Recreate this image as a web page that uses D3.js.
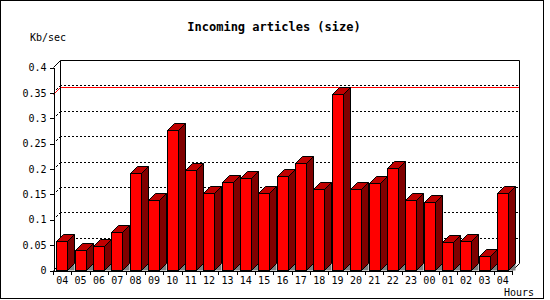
<!DOCTYPE html>
<html>
<head>
<meta charset="utf-8">
<script src="https://cdn.jsdelivr.net/npm/d3@7"></script>
<style>
  body { margin: 0; background: #fff; }
  svg text { font-family: "DejaVu Sans Mono", monospace; font-size: 10px; fill: #000; }
  .title { font-weight: bold; font-size: 12px; }
</style>
</head>
<body>
<div id="chart"></div>
<script>
const hours = ['04', '05', '06', '07', '08', '09', '10', '11', '12', '13', '14', '15', '16',
  '17', '18', '19', '20', '21', '22', '23', '00', '01', '02', '03', '04']
const sizes = [0.057, 0.040, 0.047, 0.075, 0.191, 0.138, 0.276, 0.197, 0.152, 0.173, 0.181, 0.152, 0.185,
  0.211, 0.160, 0.346, 0.160, 0.171, 0.201, 0.138, 0.134, 0.055, 0.058, 0.028, 0.152]
const yTicks = [0, 0.05, 0.1, 0.15, 0.2, 0.25, 0.3, 0.35, 0.4]
const yTickLabels = ['0', '0.05', '0.1', '0.15', '0.2', '0.25', '0.3', '0.35', '0.4']

const dms = {
  width: 550,
  height: 300,
  left: 53,
  right: 512,
  top: 67,
  bottom: 270,
  depth: 7
}
const d = dms.depth
const px = v => Math.round(v) + 0.5

const svg = d3.select('#chart').append('svg')
  .attr('width', dms.width)
  .attr('height', dms.height)

// outer frame
svg.append('rect')
  .attr('x', 0.5).attr('y', 0.5)
  .attr('width', 543).attr('height', 298)
  .attr('fill', 'none').attr('stroke', '#000')
  .attr('shape-rendering', 'crispEdges')

const x = d3.scaleBand()
  .domain(d3.range(hours.length))
  .range([dms.left, dms.right])

const y = d3.scaleLinear()
  .domain([0, 0.4])
  .range([dms.bottom, dms.top])

// dotted grid on the back and left walls
const grid = svg.append('g')
  .attr('stroke', '#000')
  .attr('stroke-dasharray', '2,2')
  .attr('shape-rendering', 'crispEdges')

yTicks.slice(1, -1).forEach(t => {
  grid.append('line')
    .attr('x1', dms.left + d).attr('x2', dms.right + d)
    .attr('y1', px(y(t) - d)).attr('y2', px(y(t) - d))
  grid.append('line')
    .attr('x1', dms.left + 0.5).attr('x2', dms.left + d + 0.5)
    .attr('y1', px(y(t))).attr('y2', px(y(t) - d))
    .attr('shape-rendering', null)
})

// max line
const maxV = d3.max(sizes)
svg.append('path')
  .attr('d', `M${dms.left + 0.5},${px(y(maxV))}L${dms.left + d + 0.5},${px(y(maxV) - d)}H${dms.right + d}`)
  .attr('fill', 'none')
  .attr('stroke', '#f00')

// walls
svg.append('path')
  .attr('d', `M${dms.left + 0.5},${px(dms.top)}L${dms.left + d + 0.5},${px(dms.top - d)}H${dms.right + d + 0.5}V${px(dms.bottom - d)}L${dms.right + 0.5},${px(dms.bottom)}`
    + `M${dms.left + d + 0.5},${px(dms.top - d)}V${px(dms.bottom - d)}`
    + `M${dms.left + 0.5},${px(dms.bottom)}L${dms.left + d + 0.5},${px(dms.bottom - d)}`)
  .attr('fill', 'none')
  .attr('stroke', '#000')

// bars
const bars = svg.append('g')
  .attr('stroke', '#000')
  .attr('stroke-linejoin', 'miter')

sizes.forEach((v, i) => {
  const x0 = px(x(i) + 3.4)
  const x1 = x0 + 11
  const yT = px(y(v))
  const yB = px(y(0))
  const g = bars.append('g')
  g.append('path')
    .attr('d', `M${x1},${yB}L${x1 + d},${yB - d}V${yB}Z`)
    .attr('fill', '#808080')
    .attr('stroke', 'none')
  g.append('path')
    .attr('d', `M${x1},${yT}L${x1 + d},${yT - d}V${yB - d}L${x1},${yB}Z`)
    .attr('fill', '#800000')
  g.append('path')
    .attr('d', `M${x0},${yT}L${x0 + d},${yT - d}H${x1 + d}L${x1},${yT}Z`)
    .attr('fill', '#c00000')
  g.append('rect')
    .attr('x', x0).attr('y', yT)
    .attr('width', x1 - x0).attr('height', yB - yT)
    .attr('fill', '#f00')
})

// y axis
const yAxis = svg.append('g')
  .attr('transform', `translate(${dms.left + 0.5},0.5)`)
  .call(d3.axisLeft(y)
    .tickValues(yTicks)
    .tickFormat((t, i) => yTickLabels[i])
    .tickSize(4)
    .tickSizeOuter(0)
    .tickPadding(3))
yAxis.attr('font-family', null).attr('font-size', null)
yAxis.selectAll('path,line').attr('shape-rendering', 'crispEdges')

// x axis
const xAxis = svg.append('g')
  .attr('transform', `translate(0,${px(dms.bottom)})`)
  .call(d3.axisBottom(x)
    .tickFormat(i => hours[i])
    .tickSize(0)
    .tickSizeOuter(0)
    .tickPadding(6))
xAxis.attr('font-family', null).attr('font-size', null)
xAxis.select('.domain').attr('shape-rendering', 'crispEdges')
xAxis.selectAll('.tick text').attr('dy', '0.71em').attr('y', 6)

xAxis.selectAll('.bound')
  .data(d3.range(hours.length + 1))
  .join('line')
  .attr('class', 'bound')
  .attr('x1', i => px(dms.left + i * x.step()))
  .attr('x2', i => px(dms.left + i * x.step()))
  .attr('y1', 0).attr('y2', 4)
  .attr('stroke', '#000')
  .attr('shape-rendering', 'crispEdges')

// titles
svg.append('text')
  .attr('class', 'title')
  .attr('x', 274).attr('y', 31)
  .attr('text-anchor', 'middle')
  .text('Incoming articles (size)')

svg.append('text')
  .attr('x', 30).attr('y', 41)
  .text('Kb/sec')

svg.append('text')
  .attr('x', 504).attr('y', 296)
  .text('Hours')
</script>
</body>
</html>
